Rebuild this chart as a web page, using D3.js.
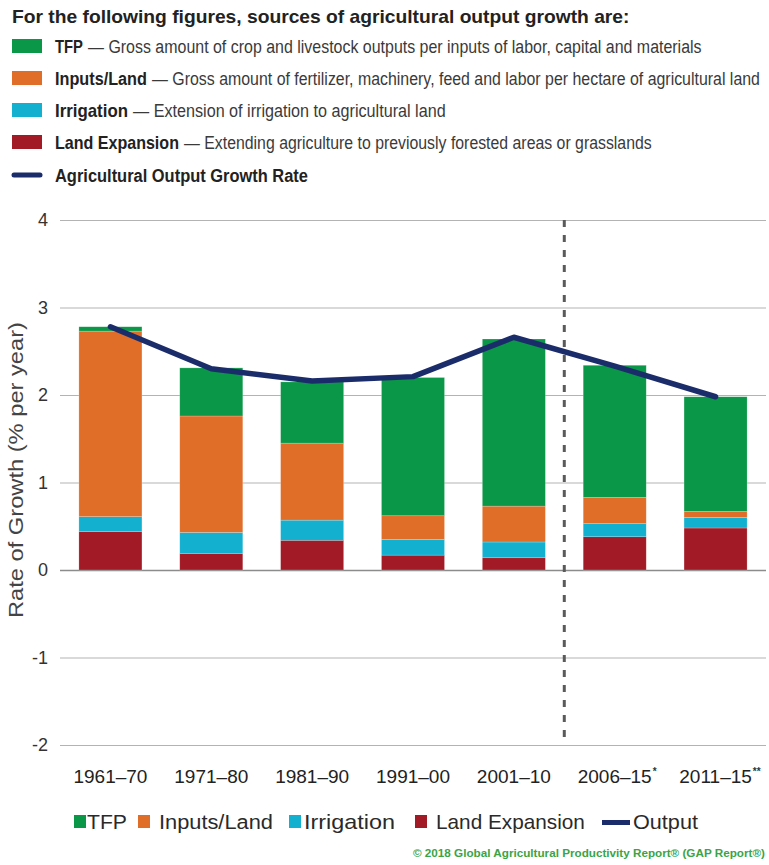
<!DOCTYPE html>
<html>
<head>
<meta charset="utf-8">
<script src="https://cdn.jsdelivr.net/npm/d3@7"></script>
<style>
  html, body { margin: 0; padding: 0; background: #ffffff; }
  svg { display: block; font-family: "Liberation Sans", Arial, Helvetica, sans-serif; }
</style>
</head>
<body>
<svg id="chart" width="769" height="865"></svg>
<script>
// ---------- data ----------
const categories = ["1961–70", "1971–80", "1981–90", "1991–00", "2001–10", "2006–15", "2011–15"];
const categoryNotes = ["", "", "", "", "", "*", "**"];
const landExpansion = [0.44, 0.19, 0.34, 0.17, 0.14, 0.38, 0.48];
const irrigation    = [0.17, 0.24, 0.23, 0.18, 0.18, 0.15, 0.12];
const inputsLand    = [2.12, 1.33, 0.88, 0.27, 0.41, 0.30, 0.07];
const tfp           = [0.05, 0.55, 0.70, 1.58, 1.91, 1.51, 1.31];
const outputGrowth  = [2.78, 2.30, 2.16, 2.21, 2.66, 2.33, 1.98];
const yTicks = [-2, -1, 0, 1, 2, 3, 4];
const yTickLabels = ["-2", "-1", "0", "1", "2", "3", "4"];
const seriesKeys = ["Land Expansion", "Irrigation", "Inputs/Land", "TFP"];
const seriesValues = [landExpansion, irrigation, inputsLand, tfp];
const headerTitle = "For the following figures, sources of agricultural output growth are:";
const headerItems = [
  {key: "TFP", desc: "— Gross amount of crop and livestock outputs per inputs of labor, capital and materials"},
  {key: "Inputs/Land", desc: "— Gross amount of fertilizer, machinery, feed and labor per hectare of agricultural land"},
  {key: "Irrigation", desc: "— Extension of irrigation to agricultural land"},
  {key: "Land Expansion", desc: "— Extending agriculture to previously forested areas or grasslands"},
  {key: "Agricultural Output Growth Rate", desc: ""}
];
const bottomLegend = ["TFP", "Inputs/Land", "Irrigation", "Land Expansion", "Output"];
const yTitle = "Rate of Growth (% per year)";
const credit = "© 2018 Global Agricultural Productivity Report® (GAP Report®)";

// ---------- styles ----------
const colors = {
  "TFP": "#0a9747",
  "Inputs/Land": "#e06e28",
  "Irrigation": "#14b0d0",
  "Land Expansion": "#a21a25",
  "Output": "#1b2c6b",
  "Agricultural Output Growth Rate": "#1b2c6b"
};

const svg = d3.select("#chart");

// place a text so that it spans exactly [x0, x1] horizontally (condensed look)
function fitText(parent, str, x0, x1, yBase, attrs) {
  const t = parent.append("text").attr("x", 0).attr("y", 0);
  Object.entries(attrs).forEach(([k, v]) => t.attr(k, v));
  t.text(str);
  const w = t.node().getComputedTextLength();
  const sx = (x1 - x0) / w;
  t.attr("transform", `translate(${x0},${yBase}) scale(${sx},1)`);
  return t;
}

// ---------- scales ----------
const x = d3.scaleBand().domain(categories).range([60, 766]).paddingInner(0.375).paddingOuter(0.1875);
const y = d3.scaleLinear().domain([-2, 4]).range([745, 220]);

// ---------- header legend ----------
fitText(svg, headerTitle, 12, 630, 23, {"font-size": 18.5, "font-weight": "bold", "fill": "#222"});

const headerLayout = [
  {cy: 46, keyEnd: 83, descStart: 88, descEnd: 702},
  {cy: 78, keyEnd: 147, descStart: 152, descEnd: 760},
  {cy: 110, keyEnd: 128, descStart: 133, descEnd: 446},
  {cy: 142, keyEnd: 179, descStart: 184, descEnd: 652},
  {cy: 175, keyEnd: 308, descStart: 0, descEnd: 0}
];
headerItems.forEach((d, i) => {
  const L = headerLayout[i];
  if (d.key === "Agricultural Output Growth Rate") {
    svg.append("line")
      .attr("x1", 14).attr("x2", 40).attr("y1", L.cy).attr("y2", L.cy)
      .attr("stroke", colors[d.key]).attr("stroke-width", 5).attr("stroke-linecap", "round");
  } else {
    svg.append("rect")
      .attr("x", 12).attr("y", L.cy - 7).attr("width", 30).attr("height", 14)
      .attr("fill", colors[d.key]);
  }
  fitText(svg, d.key, 55, L.keyEnd, L.cy + 6.5, {"font-size": 18.5, "font-weight": "bold", "fill": "#222"});
  if (d.desc) {
    fitText(svg, d.desc, L.descStart, L.descEnd, L.cy + 6.5, {"font-size": 18.5, "fill": "#3a3a3a"});
  }
});

// ---------- grid / y axis ----------
const yAxis = d3.axisLeft(y).tickValues(yTicks).tickSize(-(766 - 60)).tickPadding(12)
  .tickFormat(d => yTickLabels[yTicks.indexOf(d)]);
const gAxis = svg.append("g").attr("transform", "translate(60,0)").call(yAxis);
gAxis.select(".domain").remove();
gAxis.selectAll(".tick line")
  .attr("stroke", d => d === 0 ? "#8c8c8c" : "#b3b3b3")
  .attr("stroke-width", d => d === 0 ? 1.4 : 1.1);
gAxis.selectAll(".tick text")
  .attr("font-size", 18).attr("fill", "#333")
  .attr("font-family", "'Liberation Sans', Arial, sans-serif");

const yt = svg.append("g").attr("transform", "translate(16,470) rotate(-90)");
fitText(yt, yTitle, -148, 148, 7, {"font-size": 20, "fill": "#444"});

// ---------- stacked bars ----------
const table = categories.map((c, i) => {
  const row = {category: c};
  seriesKeys.forEach((k, j) => { row[k] = seriesValues[j][i]; });
  return row;
});
const stacked = d3.stack().keys(seriesKeys)(table);

svg.append("g").selectAll("g")
  .data(stacked)
  .join("g")
  .attr("fill", s => colors[s.key])
  .selectAll("rect")
  .data(s => s)
  .join("rect")
  .attr("x", d => x(d.data.category))
  .attr("width", x.bandwidth())
  .attr("y", d => y(d[1]))
  .attr("height", d => y(d[0]) - y(d[1]))
  .attr("stroke", "#ffffff").attr("stroke-opacity", 0.35).attr("stroke-width", 0.6);

// ---------- dashed divider ----------
const divX = (x(categories[4]) + x.bandwidth() + x(categories[5])) / 2;
svg.append("line")
  .attr("x1", divX).attr("x2", divX)
  .attr("y1", y(4)).attr("y2", y(-2) - 5)
  .attr("stroke", "#5a5a5a").attr("stroke-width", 3)
  .attr("stroke-dasharray", "7,8");

// ---------- output line ----------
const line = d3.line()
  .x((d, i) => x(categories[i]) + x.bandwidth() / 2)
  .y(d => y(d));
svg.append("path")
  .datum(outputGrowth)
  .attr("d", line)
  .attr("fill", "none")
  .attr("stroke", colors["Output"])
  .attr("stroke-width", 5.5)
  .attr("stroke-linejoin", "round")
  .attr("stroke-linecap", "round");

// ---------- x labels ----------
const xl = svg.append("g");
categories.forEach((c, i) => {
  const cx = x(c) + x.bandwidth() / 2;
  const t = xl.append("text")
    .attr("x", cx).attr("y", 783)
    .attr("text-anchor", "middle")
    .attr("font-size", 19).attr("fill", "#222")
    .text(c);
  if (categoryNotes[i]) {
    const w = t.node().getComputedTextLength();
    xl.append("text")
      .attr("x", cx + w / 2 + 1).attr("y", 775)
      .attr("font-size", 10).attr("font-weight", "bold").attr("fill", "#333")
      .text(categoryNotes[i]);
  }
});

// ---------- bottom legend ----------
const bottomLayout = [
  {mark: 74, textStart: 87, textEnd: 127},
  {mark: 138, textStart: 159, textEnd: 273},
  {mark: 289, textStart: 304, textEnd: 395},
  {mark: 415, textStart: 436, textEnd: 585},
  {mark: 602, textStart: 633, textEnd: 698}
];
bottomLegend.forEach((k, i) => {
  const L = bottomLayout[i];
  if (k === "Output") {
    svg.append("rect")
      .attr("x", L.mark).attr("y", 820).attr("width", 28).attr("height", 5)
      .attr("fill", colors[k]);
  } else {
    svg.append("rect")
      .attr("x", L.mark).attr("y", 815).attr("width", 12).attr("height", 13)
      .attr("fill", colors[k]);
  }
  fitText(svg, k, L.textStart, L.textEnd, 829, {"font-size": 20, "fill": "#2a2a2a"});
});

// ---------- credit ----------
fitText(svg, credit, 413, 765, 857, {"font-size": 10.5, "font-weight": "bold", "fill": "#3aa447"});
</script>
</body>
</html>
